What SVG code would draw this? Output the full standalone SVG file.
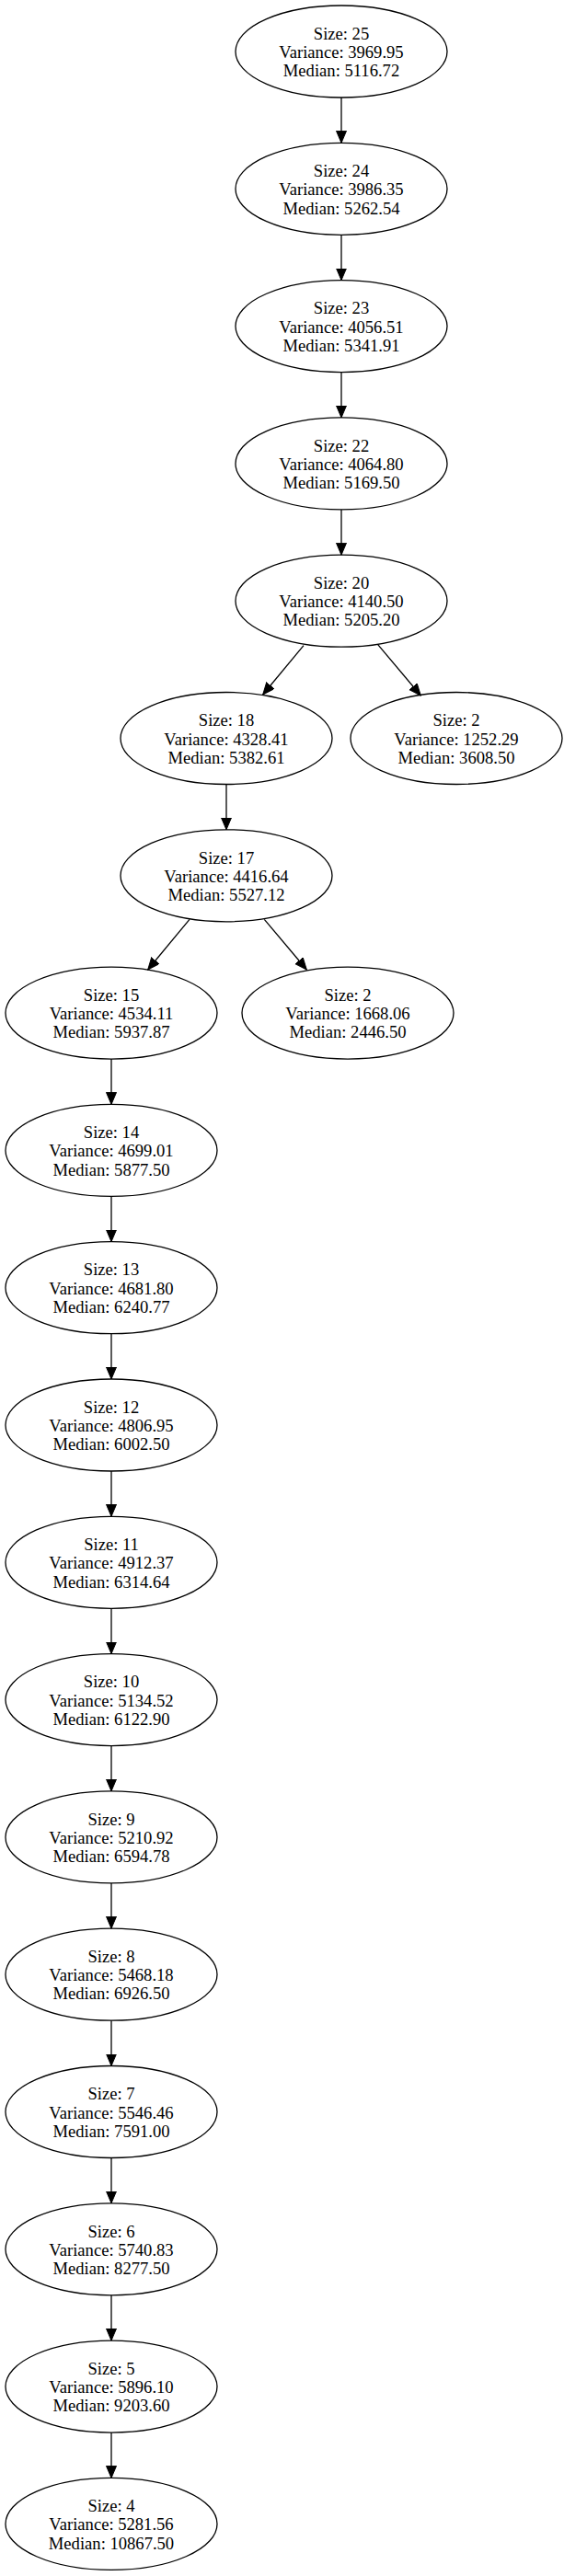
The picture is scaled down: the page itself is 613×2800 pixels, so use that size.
<svg xmlns="http://www.w3.org/2000/svg" width="613" height="2800" viewBox="0 0 613 2800">
<style>
.node ellipse{fill:none;stroke:#000;stroke-width:1.3}
.node text{font-family:"Liberation Serif","Times New Roman",serif;font-size:18.6px;text-anchor:middle;fill:#000}
.edge{stroke:#000;stroke-width:1.3;fill:none;marker-end:url(#ah)}
</style>
<defs>
<marker id="ah" markerUnits="userSpaceOnUse" markerWidth="14" markerHeight="12" refX="13" refY="5.5" orient="auto">
<path d="M0,0 L13,5.5 L0,11 z" fill="#000" stroke="#000" stroke-width="1"/>
</marker>
</defs>
<rect width="613" height="2800" fill="#fff"/>
<g id="edges">
<line class="edge" x1="371" y1="106" x2="371" y2="155.3"/>
<line class="edge" x1="371" y1="255.3" x2="371" y2="304.6"/>
<line class="edge" x1="371" y1="404.6" x2="371" y2="453.9"/>
<line class="edge" x1="371" y1="553.9" x2="371" y2="603.2"/>
<line class="edge" x1="330" y1="701.7" x2="285.7" y2="755"/>
<line class="edge" x1="410.7" y1="700.7" x2="457.3" y2="756"/>
<line class="edge" x1="246" y1="852.5" x2="246" y2="901.8"/>
<line class="edge" x1="206" y1="999.3" x2="160.7" y2="1054"/>
<line class="edge" x1="287.3" y1="999.3" x2="333.3" y2="1054"/>
<line class="edge" x1="121" y1="1151.1" x2="121" y2="1200.4"/>
<line class="edge" x1="121" y1="1300.4" x2="121" y2="1349.7"/>
<line class="edge" x1="121" y1="1449.7" x2="121" y2="1499"/>
<line class="edge" x1="121" y1="1599" x2="121" y2="1648.3"/>
<line class="edge" x1="121" y1="1748.3" x2="121" y2="1797.6"/>
<line class="edge" x1="121" y1="1897.6" x2="121" y2="1946.9"/>
<line class="edge" x1="121" y1="2046.9" x2="121" y2="2096.2"/>
<line class="edge" x1="121" y1="2196.2" x2="121" y2="2245.5"/>
<line class="edge" x1="121" y1="2345.5" x2="121" y2="2394.8"/>
<line class="edge" x1="121" y1="2494.8" x2="121" y2="2544.1"/>
<line class="edge" x1="121" y1="2644.1" x2="121" y2="2693.4"/>
</g>
<g id="n25" class="node" transform="translate(371,56)"><ellipse rx="115" ry="50"/><text y="-13.3">Size: 25</text><text y="7">Variance: 3969.95</text><text y="27.3">Median: 5116.72</text></g>
<g id="n24" class="node" transform="translate(371,205.3)"><ellipse rx="115" ry="50"/><text y="-13.3">Size: 24</text><text y="7">Variance: 3986.35</text><text y="27.3">Median: 5262.54</text></g>
<g id="n23" class="node" transform="translate(371,354.6)"><ellipse rx="115" ry="50"/><text y="-13.3">Size: 23</text><text y="7">Variance: 4056.51</text><text y="27.3">Median: 5341.91</text></g>
<g id="n22" class="node" transform="translate(371,503.9)"><ellipse rx="115" ry="50"/><text y="-13.3">Size: 22</text><text y="7">Variance: 4064.80</text><text y="27.3">Median: 5169.50</text></g>
<g id="n20" class="node" transform="translate(371,653.2)"><ellipse rx="115" ry="50"/><text y="-13.3">Size: 20</text><text y="7">Variance: 4140.50</text><text y="27.3">Median: 5205.20</text></g>
<g id="n18" class="node" transform="translate(246,802.5)"><ellipse rx="115" ry="50"/><text y="-13.3">Size: 18</text><text y="7">Variance: 4328.41</text><text y="27.3">Median: 5382.61</text></g>
<g id="n2a" class="node" transform="translate(496,802.5)"><ellipse rx="115" ry="50"/><text y="-13.3">Size: 2</text><text y="7">Variance: 1252.29</text><text y="27.3">Median: 3608.50</text></g>
<g id="n17" class="node" transform="translate(246,951.8)"><ellipse rx="115" ry="50"/><text y="-13.3">Size: 17</text><text y="7">Variance: 4416.64</text><text y="27.3">Median: 5527.12</text></g>
<g id="n15" class="node" transform="translate(121,1101.1)"><ellipse rx="115" ry="50"/><text y="-13.3">Size: 15</text><text y="7">Variance: 4534.11</text><text y="27.3">Median: 5937.87</text></g>
<g id="n2b" class="node" transform="translate(378,1101.1)"><ellipse rx="115" ry="50"/><text y="-13.3">Size: 2</text><text y="7">Variance: 1668.06</text><text y="27.3">Median: 2446.50</text></g>
<g id="n14" class="node" transform="translate(121,1250.4)"><ellipse rx="115" ry="50"/><text y="-13.3">Size: 14</text><text y="7">Variance: 4699.01</text><text y="27.3">Median: 5877.50</text></g>
<g id="n13" class="node" transform="translate(121,1399.7)"><ellipse rx="115" ry="50"/><text y="-13.3">Size: 13</text><text y="7">Variance: 4681.80</text><text y="27.3">Median: 6240.77</text></g>
<g id="n12" class="node" transform="translate(121,1549)"><ellipse rx="115" ry="50"/><text y="-13.3">Size: 12</text><text y="7">Variance: 4806.95</text><text y="27.3">Median: 6002.50</text></g>
<g id="n11" class="node" transform="translate(121,1698.3)"><ellipse rx="115" ry="50"/><text y="-13.3">Size: 11</text><text y="7">Variance: 4912.37</text><text y="27.3">Median: 6314.64</text></g>
<g id="n10" class="node" transform="translate(121,1847.6)"><ellipse rx="115" ry="50"/><text y="-13.3">Size: 10</text><text y="7">Variance: 5134.52</text><text y="27.3">Median: 6122.90</text></g>
<g id="n9" class="node" transform="translate(121,1996.9)"><ellipse rx="115" ry="50"/><text y="-13.3">Size: 9</text><text y="7">Variance: 5210.92</text><text y="27.3">Median: 6594.78</text></g>
<g id="n8" class="node" transform="translate(121,2146.2)"><ellipse rx="115" ry="50"/><text y="-13.3">Size: 8</text><text y="7">Variance: 5468.18</text><text y="27.3">Median: 6926.50</text></g>
<g id="n7" class="node" transform="translate(121,2295.5)"><ellipse rx="115" ry="50"/><text y="-13.3">Size: 7</text><text y="7">Variance: 5546.46</text><text y="27.3">Median: 7591.00</text></g>
<g id="n6" class="node" transform="translate(121,2444.8)"><ellipse rx="115" ry="50"/><text y="-13.3">Size: 6</text><text y="7">Variance: 5740.83</text><text y="27.3">Median: 8277.50</text></g>
<g id="n5" class="node" transform="translate(121,2594.1)"><ellipse rx="115" ry="50"/><text y="-13.3">Size: 5</text><text y="7">Variance: 5896.10</text><text y="27.3">Median: 9203.60</text></g>
<g id="n4" class="node" transform="translate(121,2743.4)"><ellipse rx="115" ry="50"/><text y="-13.3">Size: 4</text><text y="7">Variance: 5281.56</text><text y="27.3">Median: 10867.50</text></g>
</svg>
